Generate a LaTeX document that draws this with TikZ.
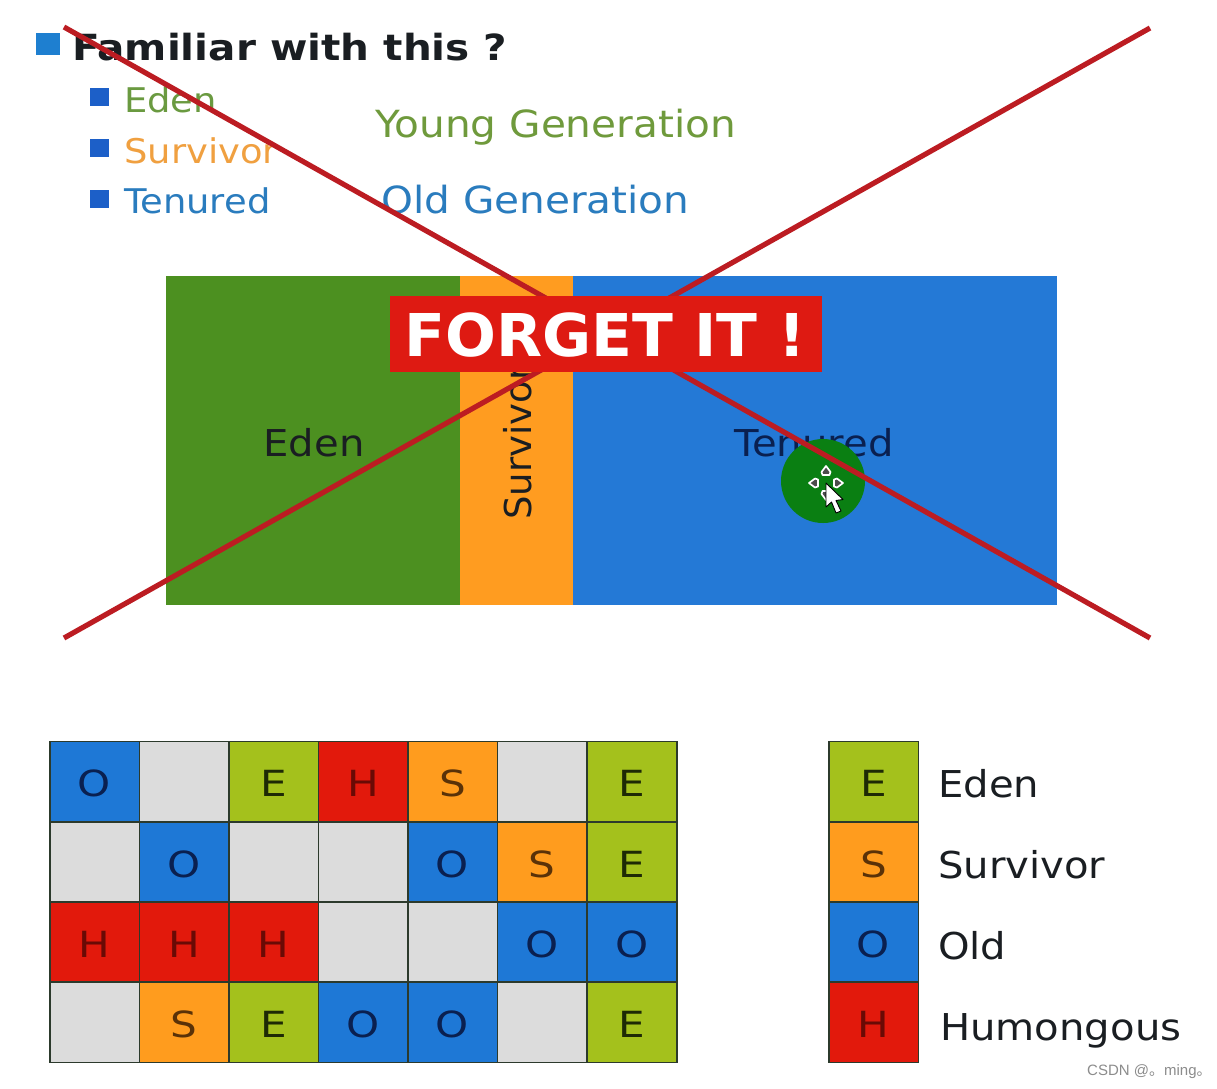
\documentclass[tikz,border=0pt]{standalone}
\usepackage{fontspec}
\setmainfont[FakeStretch=1.085]{DejaVu Sans}
\newfontfamily\plainfont{DejaVu Sans}
\newfontfamily\cellfont[FakeStretch=1.17]{DejaVu Sans}
\newfontfamily\headfont[FakeStretch=1.125]{DejaVu Sans Bold}
\newfontfamily\bannerfont[FakeStretch=1.015]{DejaVu Sans Bold}
\newfontfamily\cjkfont{Noto Sans CJK SC}
\newfontfamily\wmfont{Liberation Sans}
\definecolor{bulA}{HTML}{1E7FD0}
\definecolor{bulB}{HTML}{1C5FC8}
\definecolor{tgreen}{HTML}{6A9A40}
\definecolor{tgreenB}{HTML}{6F9A3C}
\definecolor{torange}{HTML}{F0A040}
\definecolor{tblue}{HTML}{2A7CBE}
\definecolor{bgreen}{HTML}{4C9020}
\definecolor{borange}{HTML}{FF9C20}
\definecolor{bblue}{HTML}{2479D6}
\definecolor{cellE}{HTML}{A4C11C}
\definecolor{cellS}{HTML}{FF9C1E}
\definecolor{cellO}{HTML}{1E78D6}
\definecolor{cellH}{HTML}{E2190C}
\definecolor{cellF}{HTML}{DCDCDC}
\definecolor{xred}{HTML}{BC1C22}
\definecolor{bannerred}{HTML}{DE1A12}
\definecolor{dkgreen}{HTML}{0A7F12}
\definecolor{ink}{HTML}{1A1E22}
\definecolor{gridline}{HTML}{2C3A2C}
\definecolor{inkE}{HTML}{1E2A05}
\definecolor{inkS}{HTML}{5A3208}
\definecolor{inkO}{HTML}{0A2050}
\definecolor{inkH}{HTML}{6A0A05}
\tikzset{
  x=1pt,y=-1pt,
  cell/.style={draw=gridline,line width=1.5pt,minimum width=89.5pt,minimum height=80.5pt,inner sep=0pt,anchor=center,text=ink,text height=30.5pt,text depth=0pt,font=\cellfont\fontsize{36}{36}\selectfont},
  cE/.style={cell,fill=cellE,text=inkE},
  cS/.style={cell,fill=cellS,text=inkS},
  cO/.style={cell,fill=cellO,text=inkO},
  cH/.style={cell,fill=cellH,text=inkH},
  cF/.style={cell,fill=cellF},
  bullet/.style={inner sep=0pt,minimum width=19pt,minimum height=18pt,fill=bulB},
  lsttext/.style={anchor=base west,inner sep=0pt,font=\fontsize{34}{34}\selectfont},
  gentext/.style={anchor=base west,inner sep=0pt,font=\fontsize{37.4}{37.4}\selectfont},
  legtext/.style={anchor=base west,inner sep=0pt,text=ink,font=\fontsize{37}{37}\selectfont},
  region/.style={inner sep=0pt,anchor=north west},
  cross/.style={draw=xred,line width=5.2pt},
}
\begin{document}
\begin{tikzpicture}
\useasboundingbox (0,0) rectangle (1217,1088);
\fill[white] (0,0) rectangle (1217,1088);
% heading list
\node[bullet,fill=bulA,minimum width=24pt,minimum height=22pt] (b0) at (48,44) {};
\node[anchor=base west,inner sep=0pt,text=ink,font=\headfont\fontsize{36}{36}\selectfont] (head) at (72,60) {Familiar with this ?};
\node[bullet] (b1) at (99,97) {};
\node[bullet] (b2) at (99,148) {};
\node[bullet] (b3) at (99,199) {};
\node[lsttext,text=tgreen] (l1) at (124,112) {Eden};
\node[lsttext,text=torange] (l2) at (124,163) {Survivor};
\node[lsttext,text=tblue] (l3) at (124,213) {Tenured};
\node[gentext,text=tgreenB] (yg) at (375,137) {Young Generation};
\node[gentext,text=tblue] (og) at (381,213.5) {Old Generation};
% heap regions
\node[region,fill=bgreen,minimum width=294pt,minimum height=329pt] (eden) at (166,276) {};
\node[region,fill=borange,minimum width=114pt,minimum height=329pt] (surv) at (459.5,276) {};
\node[region,fill=bblue,minimum width=484pt,minimum height=329pt] (ten) at (572.5,276) {};
\node[inner sep=0pt,text=ink,font=\fontsize{37}{37}\selectfont] (edent) at (314,443) {Eden};
\node[inner sep=0pt,anchor=west,rotate=90,text=ink,font=\plainfont\fontsize{37}{37}\selectfont] (survt) at (518,520) {Survivor};
\node[inner sep=0pt,text=inkO,font=\fontsize{37}{37}\selectfont] (tent) at (814,443) {Tenured};
\node[circle,fill=dkgreen,minimum size=84pt,inner sep=0pt] (spot) at (823,481) {};
% cross
\coordinate (xa) at (64,27);
\coordinate (xb) at (1150,638);
\coordinate (xc) at (64,638);
\coordinate (xd) at (1150,28);
\draw[cross] (xa) -- (xb);
\draw[cross] (xc) -- (xd);
% cursor
\begin{scope}[shift={(826,483)}]
  \foreach \a in {0,90,180,270}{
    \draw[rotate=\a,draw=white,fill=black!70,line width=1.7pt,line join=round] (-3.5,-8) -- (-4.5,-11) -- (0,-17) -- (4.5,-11) -- (3.5,-8) -- cycle;
  }
  \draw[draw=black,fill=white,line width=0.9pt,line join=round] (0,0) -- (0,24) -- (5.5,19) -- (10,30) -- (15,28) -- (10,17.5) -- (17,16.5) -- cycle;
\end{scope}
% banner
\node[fill=bannerred,minimum width=432pt,minimum height=76pt,inner sep=0pt,anchor=north west] (banner) at (390,296) {};
\node[inner sep=0pt,text=white,font=\bannerfont\fontsize{59}{59}\selectfont] (bannert) at (605,335) {FORGET IT !};
% grid
\foreach \name/\st/\t/\cx/\cy in {
 g11/cO/O/94.5/781.5, g12/cF//184/781.5, g13/cE/E/273.5/781.5, g14/cH/H/363/781.5, g15/cS/S/452.5/781.5, g16/cF//542/781.5, g17/cE/E/632/781.5,
 g21/cF//94.5/862, g22/cO/O/184/862, g23/cF//273.5/862, g24/cF//363/862, g25/cO/O/452.5/862, g26/cS/S/542/862, g27/cE/E/632/862,
 g31/cH/H/94.5/942, g32/cH/H/184/942, g33/cH/H/273.5/942, g34/cF//363/942, g35/cF//452.5/942, g36/cO/O/542/942, g37/cO/O/632/942,
 g41/cF//94.5/1022, g42/cS/S/184/1022, g43/cE/E/273.5/1022, g44/cO/O/363/1022, g45/cO/O/452.5/1022, g46/cF//542/1022, g47/cE/E/632/1022}{
  \node[\st] (\name) at (\cx,\cy) {\t};
}
% legend
\node[cE] (le) at (873.5,781.5) {E};
\node[cS] (ls) at (873.5,862) {S};
\node[cO] (lo) at (873.5,942) {O};
\node[cH] (lh) at (873.5,1022) {H};
\node[legtext] (lte) at (938,797) {Eden};
\node[legtext] (lts) at (938,878) {Survivor};
\node[legtext] (lto) at (938,959) {Old};
\node[legtext] (lth) at (940,1040) {Humongous};
% watermark
\node[anchor=base west,inner sep=0pt,text=black!45,font=\wmfont\fontsize{15}{15}\selectfont] (wm) at (1087,1075) {CSDN @{\cjkfont 。}ming{\cjkfont 。}};
\end{tikzpicture}
\end{document}
